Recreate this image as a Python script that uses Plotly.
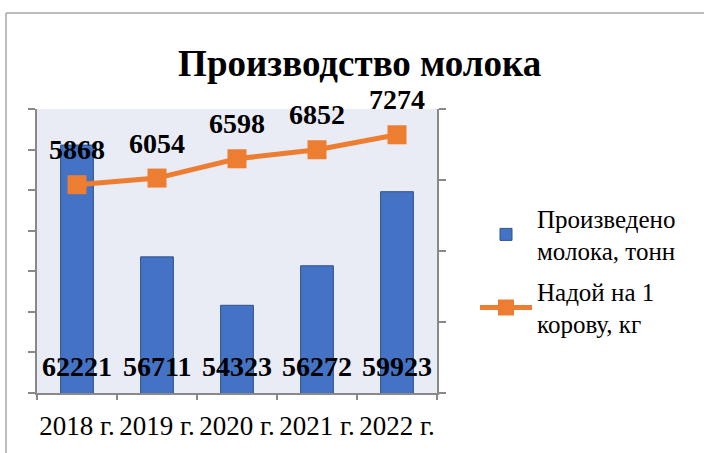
import plotly.graph_objects as go

years = ["2018 г.", "2019 г.", "2020 г.", "2021 г.", "2022 г."]
milk_tonnes = [62221, 56711, 54323, 56272, 59923]
yield_per_cow = [5868, 6054, 6598, 6852, 7274]

FONT = "Liberation Serif"
BLUE = "#4472c4"
ORANGE = "#ed7d31"
AXIS = "#898989"
Y1_RANGE = [50000, 64000]

fig = go.Figure()
fig.add_trace(go.Bar(
    x=years, y=milk_tonnes, name="Произведено<br>молока, тонн",
    legendgroup="a",
    marker=dict(color=BLUE, line=dict(color="#2f528f", width=1)),
))
fig.add_trace(go.Scatter(
    x=years, y=yield_per_cow, name="Надой на 1<br>корову, кг", yaxis="y2",
    legendgroup="b",
    mode="lines+markers",
    line=dict(color=ORANGE, width=5),
    marker=dict(symbol="square", size=19, color=ORANGE),
    cliponaxis=False,
))
fig.add_trace(go.Scatter(
    x=years, y=yield_per_cow, yaxis="y2", mode="markers+text", showlegend=False,
    marker=dict(size=28, opacity=0), text=[str(v) for v in yield_per_cow],
    textposition="top center", hoverinfo="skip",
    textfont=dict(family=FONT, size=28, color="black", weight="bold"),
    cliponaxis=False,
))

annotations = [
    dict(x=yr, y=Y1_RANGE[0], xref="x", yref="y", text=f"<b>{v}</b>",
         showarrow=False, yanchor="bottom", yshift=9,
         font=dict(family=FONT, size=28, color="black"))
    for yr, v in zip(years, milk_tonnes)
]

fig.update_layout(
    width=704, height=453,
    margin=dict(l=37, r=267, t=109, b=60, autoexpand=False),
    paper_bgcolor="white", plot_bgcolor="#e9ebf5",
    font=dict(family=FONT, color="black"),
    title=dict(text="<b>Производство молока</b>", xref="container", yref="container",
               x=0.511, y=0.86, xanchor="center", yanchor="middle",
               font=dict(family=FONT, size=37, color="black")),
    bargap=0.59,
    showlegend=True,
    legend=dict(x=1.095, xanchor="left", y=0.43, yanchor="middle",
                font=dict(family=FONT, size=25, color="black"),
                itemwidth=52, tracegroupgap=5, traceorder="grouped",
                bgcolor="rgba(0,0,0,0)"),
    xaxis=dict(showline=True, linecolor=AXIS, linewidth=2, ticks="outside",
               tickson="boundaries", ticklen=5, tickcolor=AXIS, tickwidth=1.5,
               tickangle=0, automargin=False, ticklabelstandoff=8,
               tickfont=dict(family=FONT, size=27, color="black"), showgrid=False),
    yaxis=dict(range=Y1_RANGE, dtick=2000, showline=True, linecolor=AXIS,
               linewidth=2, ticks="outside", ticklen=7, tickcolor=AXIS, tickwidth=1.5,
               showticklabels=False, showgrid=False, zeroline=False, automargin=False),
    yaxis2=dict(range=[0, 8000], dtick=2000, overlaying="y", side="right",
                showline=True, linecolor=AXIS, linewidth=2, ticks="outside",
                ticklen=7, tickcolor=AXIS, tickwidth=1.5, showticklabels=False,
                showgrid=False, zeroline=False, automargin=False),
    annotations=annotations,
    shapes=[
        dict(type="line", xref="paper", yref="paper", x0=-0.0775, x1=1.7,
             y0=1.338, y1=1.338, line=dict(color="#a6a6a6", width=1.5)),
        dict(type="line", xref="paper", yref="paper", x0=-0.0775, x1=-0.0775,
             y0=1.338, y1=-0.3, line=dict(color="#a6a6a6", width=1.5)),
    ],
)

fig.write_html("out.html", config={"displayModeBar": False},
               post_script="document.body.style.margin='0';")
